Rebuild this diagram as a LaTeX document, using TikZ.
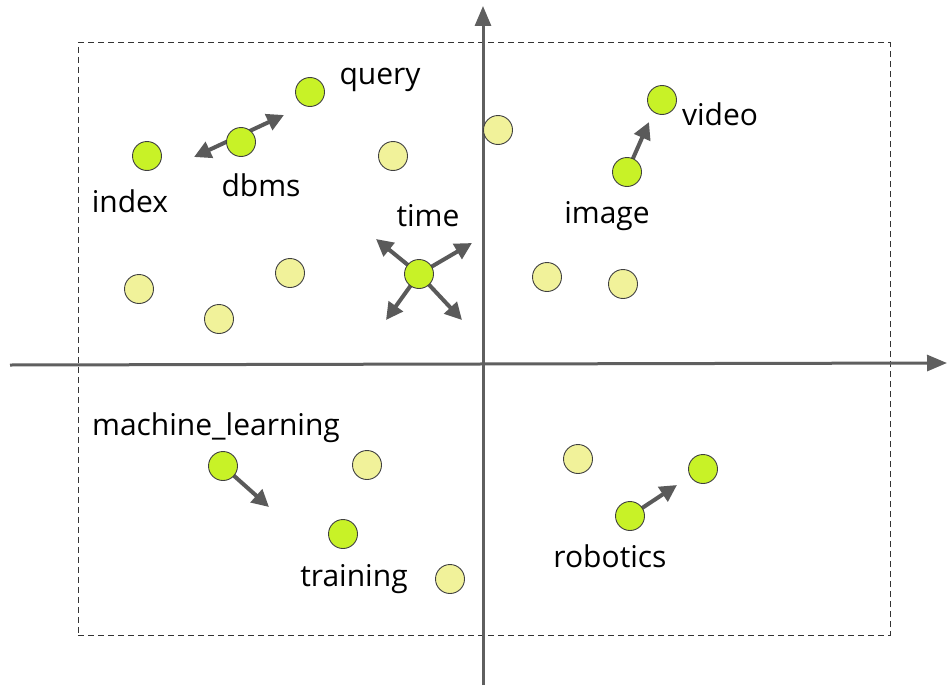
\documentclass[tikz,border=0pt]{standalone}
\usepackage{fontspec}
\setmainfont{Open Sans}
\usetikzlibrary{arrows.meta}
\definecolor{axisgray}{HTML}{5F5F5F}
\definecolor{arrgray}{HTML}{5A5A5A}
\definecolor{lime}{HTML}{C8F227}
\definecolor{paley}{HTML}{F1F29A}
\begin{document}
\begin{tikzpicture}[x=1pt,y=-1pt,
  dot/.style={circle,draw=black!75,line width=0.9pt,minimum size=29pt,inner sep=0pt},
  gdot/.style={dot,fill=lime},
  ydot/.style={dot,fill=paley},
  lbl/.style={font=\fontsize{30}{34}\selectfont,text=black,inner sep=0pt},
  axis/.style={draw=axisgray,line width=3pt,-{Triangle[length=20pt,width=16pt]}},
  arr/.style={draw=arrgray,line width=4pt,-{Triangle[length=17pt,width=17pt]}},
  darr/.style={draw=arrgray,line width=4pt,{Triangle[length=17pt,width=17pt]}-{Triangle[length=17pt,width=17pt]}}]
\useasboundingbox (0,0) rectangle (947,685);
\fill[white] (0,0) rectangle (947,685);
% frame
\node[draw=black!80,dash pattern=on 6pt off 4pt,line width=1pt,minimum width=812pt,minimum height=592pt,inner sep=0pt] (frame) at (484,339) {};
% axes
\coordinate (vb) at (483,685);
\coordinate (vt) at (483,6);
\coordinate (hl) at (10,365);
\coordinate (hr) at (947,363);
\draw[axis] (vb) -- (vt);
\draw[axis] (hl) -- (hr);
% arrow endpoints
\coordinate (dA) at (194,157);
\coordinate (dB) at (284,115);
\coordinate (t1) at (376,239);
\coordinate (t2) at (472,243);
\coordinate (t3) at (386,320);
\coordinate (t4) at (462,320);
\coordinate (iv) at (649,122);
\coordinate (ml) at (269,507);
\coordinate (rb) at (677,485);
\coordinate (dbc) at (241,142);
\coordinate (tc) at (419,274);
\coordinate (imc) at (627,172);
\coordinate (mlc) at (223,466);
\coordinate (rc) at (630,516);
\draw[darr] (dA) -- (dB);
\draw[arr] (tc) -- (t1);
\draw[arr] (tc) -- (t2);
\draw[arr] (tc) -- (t3);
\draw[arr] (tc) -- (t4);
\draw[arr] (imc) -- (iv);
\draw[arr] (mlc) -- (ml);
\draw[arr] (rc) -- (rb);
% green dots
\node[gdot] (query) at (310,92) {};
\node[gdot] (dbms) at (dbc) {};
\node[gdot] (index) at (147,156) {};
\node[gdot] (video) at (662,100) {};
\node[gdot] (image) at (imc) {};
\node[gdot] (time) at (tc) {};
\node[gdot] (mlearn) at (mlc) {};
\node[gdot] (training) at (343,534) {};
\node[gdot] (robotics) at (rc) {};
\node[gdot] (g10) at (703,469) {};
% yellow dots
\node[ydot] (y1) at (393,156) {};
\node[ydot] (y2) at (498,130) {};
\node[ydot] (y3) at (139,289) {};
\node[ydot] (y4) at (219,319) {};
\node[ydot] (y5) at (290,273) {};
\node[ydot] (y6) at (547,277) {};
\node[ydot] (y7) at (623,284) {};
\node[ydot] (y8) at (367,465) {};
\node[ydot] (y9) at (578,459) {};
\node[ydot] (y10) at (450,579) {};
% labels
\node[lbl] (lquery) at (380,80) {query};
\node[lbl] (ldbms) at (261,185) {dbms};
\node[lbl] (lindex) at (130,201) {index};
\node[lbl] (lvideo) at (720,114) {video};
\node[lbl] (limage) at (607,216) {image};
\node[lbl] (ltime) at (428,216) {time};
\node[lbl] (lml) at (216,428) {machine\_learning};
\node[lbl] (ltrain) at (354,579) {training};
\node[lbl] (lrob) at (610,556) {robotics};
\end{tikzpicture}
\end{document}
